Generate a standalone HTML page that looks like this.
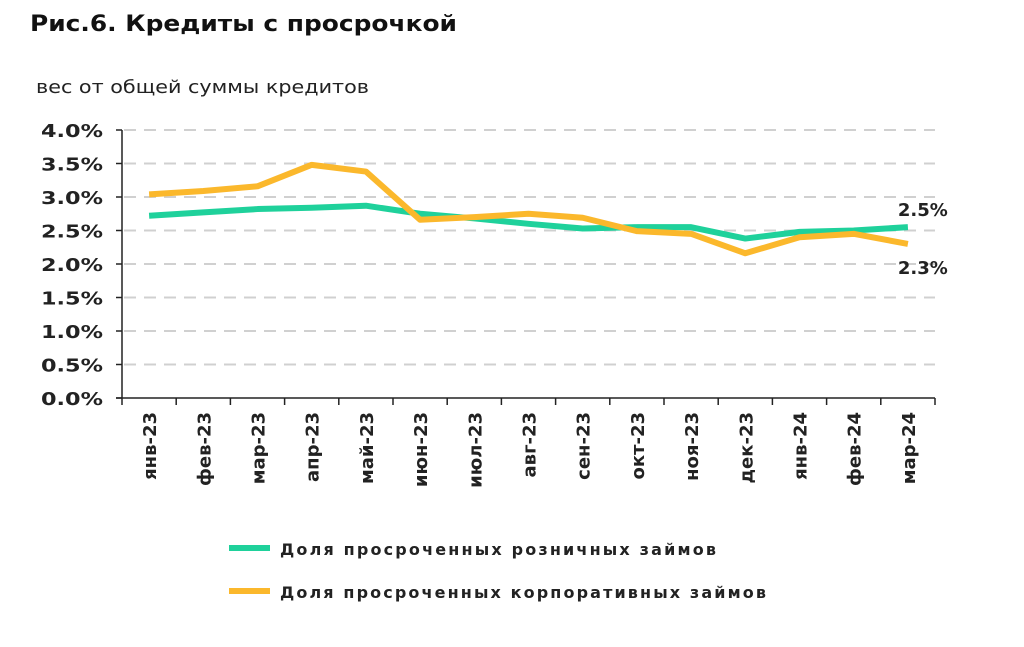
<!DOCTYPE html>
<html><head><meta charset="utf-8"><style>
body{margin:0;background:#fff;font-family:"DejaVu Sans","Liberation Sans",sans-serif;}
</style></head><body>
<svg width="1024" height="643" viewBox="0 0 1024 643" font-family="DejaVu Sans, Liberation Sans, sans-serif">
<text x="30" y="31" font-size="22" font-weight="bold" fill="#111" textLength="427" lengthAdjust="spacingAndGlyphs">Рис.6. Кредиты с просрочкой</text>
<text x="36" y="93" font-size="18" fill="#222" textLength="333" lengthAdjust="spacingAndGlyphs">вес от общей суммы кредитов</text>
<g id="grid"></g><g id="axes"></g><g id="lines"></g>
<line x1="229" y1="548" x2="270" y2="548" stroke="#1fd19b" stroke-width="6"/>
<text x="280" y="555" font-size="16" font-weight="bold" fill="#222" textLength="436" lengthAdjust="spacing">Доля просроченных розничных займов</text>
<line x1="229" y1="591" x2="270" y2="591" stroke="#fbb82c" stroke-width="6"/>
<text x="280" y="598" font-size="16" font-weight="bold" fill="#222" textLength="486" lengthAdjust="spacing">Доля просроченных корпоративных займов</text>
</svg>
<script>
const categories=["янв-23","фев-23","мар-23","апр-23","май-23","июн-23","июл-23","авг-23","сен-23","окт-23","ноя-23","дек-23","янв-24","фев-24","мар-24"];
const retail=[2.72,2.77,2.82,2.84,2.87,2.75,2.68,2.60,2.53,2.55,2.55,2.38,2.48,2.50,2.55];
const corporate=[3.04,3.09,3.16,3.48,3.38,2.66,2.70,2.75,2.69,2.49,2.45,2.16,2.40,2.45,2.30];
const yTicks=[0,0.5,1,1.5,2,2.5,3,3.5,4];
const yTickLabels=["0.0%","0.5%","1.0%","1.5%","2.0%","2.5%","3.0%","3.5%","4.0%"];
const NS="http://www.w3.org/2000/svg";
const x0=122,x1=935,y0=398,y1=130;
const bw=(x1-x0)/categories.length;
const X=i=>x0+bw*(i+0.5);
const Y=v=>y0-(v/4)*(y0-y1);
function mk(t,a,p){const e=document.createElementNS(NS,t);for(const k in a)e.setAttribute(k,a[k]);p.appendChild(e);return e;}
const grid=document.getElementById('grid'),axes=document.getElementById('axes'),lines=document.getElementById('lines');
yTicks.forEach((v,i)=>{
 if(v>0){const g=mk('line',{x1:x0+2,x2:x1,y1:Y(v),y2:Y(v),stroke:'#d0d0d0','stroke-width':2,'stroke-dasharray':'12,8'},grid);
 
 }
 const t=mk('line',{x1:x0-6,x2:x0,y1:Y(v),y2:Y(v),stroke:'#222','stroke-width':1.5},axes);
 
 
 const l=mk('text',{x:x0-19,y:Y(v)+7,'text-anchor':'end','font-size':18,'font-weight':'bold',fill:'#222',textLength:62,lengthAdjust:'spacingAndGlyphs'},axes);
 l.textContent=yTickLabels[i];
 
 
});
const ya=mk('line',{x1:x0,x2:x0,y1:y1,y2:y0,stroke:'#222','stroke-width':1.5},axes);


const xa=mk('line',{x1:x0-6,x2:x1,y1:y0,y2:y0,stroke:'#222','stroke-width':1.5},axes);


for(let i=0;i<=categories.length;i++){
 const t=mk('line',{x1:x0+bw*i,x2:x0+bw*i,y1:y0,y2:y0+7,stroke:'#222','stroke-width':1.5},axes);
 
 
}
categories.forEach((c,i)=>{
 const l=mk('text',{x:0,y:0,'text-anchor':'end','font-size':18,'font-weight':'bold',fill:'#222',transform:`translate(${X(i)+7},${y0+14}) rotate(-90)`},axes);
 l.textContent=c;
 
 
});
function series(data,color,name){
 const p=mk('polyline',{points:data.map((v,i)=>X(i)+','+Y(v)).join(' '),fill:'none',stroke:color,'stroke-width':6,'stroke-linejoin':'round'},lines);
 
 
}
series(retail,'#1fd19b','line-retail');
series(corporate,'#fbb82c','line-corporate');
const n=categories.length-1;
const a=mk('text',{x:X(n)-10,y:Y(retail[n])-11,'font-size':18,'font-weight':'bold',fill:'#222'},lines);
a.textContent=retail[n].toFixed(1)+'%';


const b=mk('text',{x:X(n)-10,y:Y(corporate[n])+30,'font-size':18,'font-weight':'bold',fill:'#222'},lines);
b.textContent=corporate[n].toFixed(1)+'%';


</script>
</body></html>
